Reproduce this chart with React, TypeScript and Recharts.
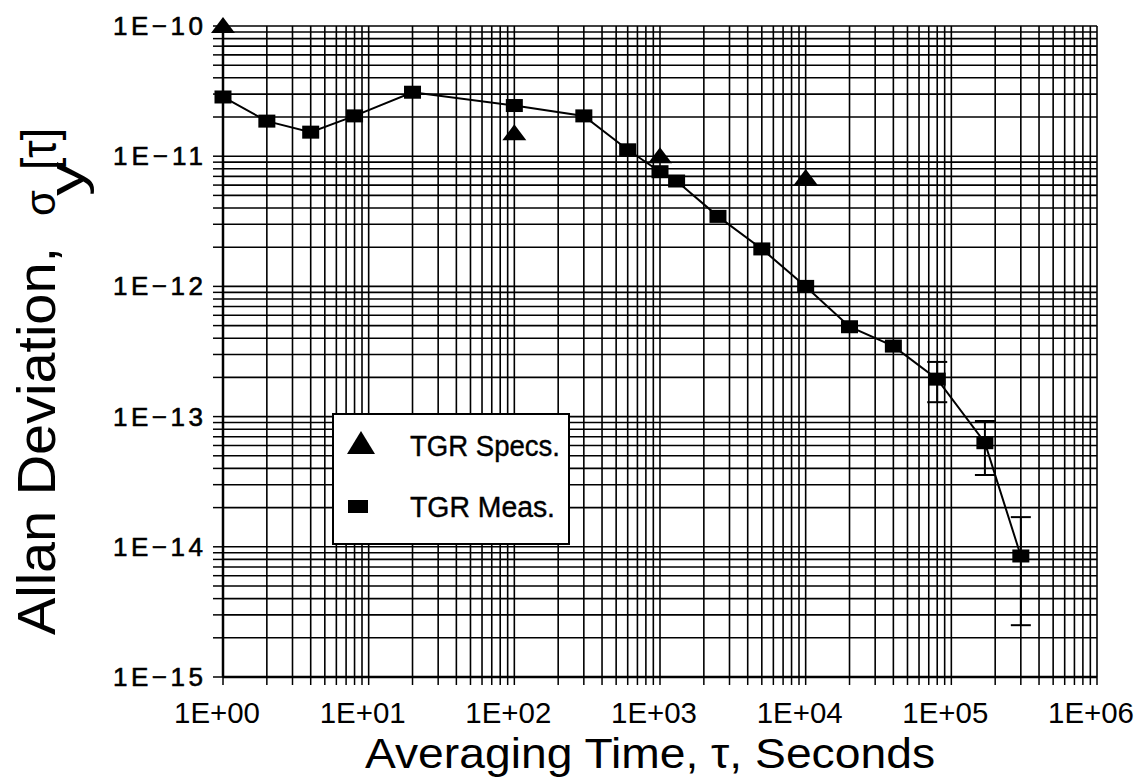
import React from 'react';
import { ComposedChart, Line, Scatter, XAxis, YAxis, CartesianGrid, ErrorBar, Legend } from 'recharts';

// ---- data ----
const measTau = [1, 2, 4, 8, 20, 100, 300, 600, 1000, 1300, 2500, 5000, 10000, 20000, 40000, 80000, 170000, 300000];
const measSigma = [2.85e-11, 1.86e-11, 1.53e-11, 2.04e-11, 3.1e-11, 2.45e-11, 2.04e-11, 1.12e-11, 7.6e-12, 6.45e-12, 3.45e-12, 1.94e-12, 1.0e-12, 4.9e-13, 3.48e-13, 1.94e-13, 6.3e-14, 8.5e-15];
const errTau = [80000, 170000, 300000];
const errSigma = [1.94e-13, 6.3e-14, 8.5e-15];
const errLow = [1.29e-13, 3.56e-14, 2.5e-15];
const errHigh = [2.63e-13, 9.25e-14, 1.69e-14];
const specTau = [1, 100, 1000, 10000];
const specSigma = [1e-10, 1.5e-11, 1e-11, 6.8e-12];

const xDecades = [1, 10, 100, 1e3, 1e4, 1e5, 1e6];
const xTickLabels = ['1E+00', '1E+01', '1E+02', '1E+03', '1E+04', '1E+05', '1E+06'];
const yDecades = [1e-15, 1e-14, 1e-13, 1e-12, 1e-11, 1e-10];
const yTickLabels = ['1E\u221215', '1E\u221214', '1E\u221213', '1E\u221212', '1E\u221211', '1E\u221210'];
const legendLabels = ['TGR Specs.', 'TGR Meas.'];
const xTitle = 'Averaging Time, \u03c4, Seconds';
const yTitleMain = 'Allan Deviation,';
const yTitleSym = '\u03c3';
const yTitleSub = 'y';
const yTitleArg = '[\u03c4]';

const minorTicks = (decades: number[]) => {
  const out: number[] = [];
  for (let i = 0; i < decades.length - 1; i++) {
    for (let m = 1; m <= 9; m++) out.push(m * decades[i]);
  }
  out.push(decades[decades.length - 1]);
  return out;
};
const xTicks = minorTicks(xDecades);
const yTicks = minorTicks(yDecades);

const measData = measTau.map((t, i) => ({ tau: t, sigma: measSigma[i] }));
const errData = errTau.map((t, i) => ({ tau: t, sigma: errSigma[i], err: [errSigma[i] - errLow[i], errHigh[i] - errSigma[i]] }));
const specData = specTau.map((t, i) => ({ tau: t, sigma: specSigma[i] }));

const FONT = '"Liberation Sans", Arial, Helvetica, sans-serif';

const decadeIndex = (arr: number[], v: number) => arr.findIndex((d) => Math.abs(v / d - 1) < 1e-6);

const XTick = (props: any) => {
  const { x, y, payload } = props;
  const i = decadeIndex(xDecades, payload.value);
  if (i < 0) return <g />;
  return (
    <text x={x - 6} y={y + 36} textAnchor="middle" fontFamily={FONT} fontSize={29} fill="#000"
      textLength={86} lengthAdjust="spacingAndGlyphs">{xTickLabels[i]}</text>
  );
};

const YTick = (props: any) => {
  const { x, y, payload } = props;
  const i = decadeIndex(yDecades, payload.value);
  if (i < 0) return <g />;
  return (
    <text x={x - 8} y={y + 9} textAnchor="end" fontFamily={FONT} fontSize={26} fill="#000"
      stroke="#000" strokeWidth={0.6} textLength={90} lengthAdjust="spacing">{yTickLabels[i]}</text>
  );
};

const XTitle = () => (
  <text x={650} y={768} textAnchor="middle" fontFamily={FONT} fontSize={43} fill="#000"
    textLength={570} lengthAdjust="spacingAndGlyphs">{xTitle}</text>
);

const YTitle = () => (
  <g fontFamily={FONT} fill="#000">
    <text x={55} y={247} transform="rotate(-90 55 247)" textAnchor="end" fontSize={54}
      textLength={388} lengthAdjust="spacingAndGlyphs">{yTitleMain}</text>
    <text x={55} y={216} transform="rotate(-90 55 216)" textAnchor="start" fontSize={42}>{yTitleSym}</text>
    <text x={84} y={196} transform="rotate(-90 84 196)" textAnchor="start" fontSize={50}
      textLength={34} lengthAdjust="spacingAndGlyphs">{yTitleSub}</text>
    <text x={56} y={170} transform="rotate(-90 56 170)" textAnchor="start" fontSize={50}
      textLength={42} lengthAdjust="spacingAndGlyphs">{yTitleArg}</text>
  </g>
);

const SquareDot = (props: any) => {
  const { cx, cy, index } = props;
  if (cx == null || cy == null) return <g key={`sq-${index}`} />;
  return <rect key={`sq-${index}`} x={cx - 8.5} y={cy - 6.5} width={17} height={13} fill="#000" />;
};

const Triangle = (props: any) => {
  const { cx, cy } = props;
  return <polygon points={`${cx},${cy - 9} ${cx - 12},${cy + 7} ${cx + 12},${cy + 7}`} fill="#000" />;
};

const LegendBox = () => (
  <svg width={238} height={132} style={{ display: 'block' }}>
    <rect x={1} y={1} width={236} height={130} fill="#fff" stroke="#000" strokeWidth={2} />
    <polygon points="29,18 15,41 43,41" fill="#000" />
    <text x={78} y={43} fontFamily={FONT} fontSize={29} fill="#000" stroke="#000" strokeWidth={0.4}
      textLength={150} lengthAdjust="spacingAndGlyphs">{legendLabels[0]}</text>
    <rect x={16} y={87} width={20} height={13} fill="#000" />
    <text x={78} y={104} fontFamily={FONT} fontSize={29} fill="#000" stroke="#000" strokeWidth={0.4}
      textLength={145} lengthAdjust="spacingAndGlyphs">{legendLabels[1]}</text>
  </svg>
);

export default function App() {
  return (
    <div style={{ position: 'absolute', left: 0, top: 0, width: 1147, height: 780, background: '#fff' }}>
      <ComposedChart width={1147} height={780} margin={{ top: 26, right: 50, bottom: 0, left: 0 }}>
        <CartesianGrid stroke="#000" strokeWidth={1.6} />
        <XAxis dataKey="tau" type="number" scale="log" domain={[1, 1e6]} ticks={xTicks} interval={0}
          height={103} tick={<XTick />} tickSize={8} tickLine={{ stroke: '#000', strokeWidth: 1.5 }}
          axisLine={{ stroke: '#000', strokeWidth: 2.5 }} label={<XTitle />} />
        <YAxis type="number" scale="log" domain={[1e-15, 1e-10]} ticks={yTicks} interval={0}
          width={223} tick={<YTick />} tickSize={10} tickLine={{ stroke: '#000', strokeWidth: 1.5 }}
          axisLine={{ stroke: '#000', strokeWidth: 2.5 }} label={<YTitle />} />
        <Line data={errData} dataKey="sigma" stroke="none" dot={false} activeDot={false} legendType="none" isAnimationActive={false}>
          <ErrorBar dataKey="err" width={10} stroke="#000" strokeWidth={2} direction="y" isAnimationActive={false} />
        </Line>
        <Line data={measData} dataKey="sigma" name={legendLabels[1]} stroke="#000" strokeWidth={2} dot={SquareDot}
          activeDot={false} isAnimationActive={false} />
        <Scatter data={specData} dataKey="sigma" name={legendLabels[0]} shape={Triangle} isAnimationActive={false} />
        <Legend layout="vertical" align="center" verticalAlign="middle" content={<LegendBox />}
          wrapperStyle={{ left: 332, top: 413, width: 238, height: 132 }} />
      </ComposedChart>
    </div>
  );
}
